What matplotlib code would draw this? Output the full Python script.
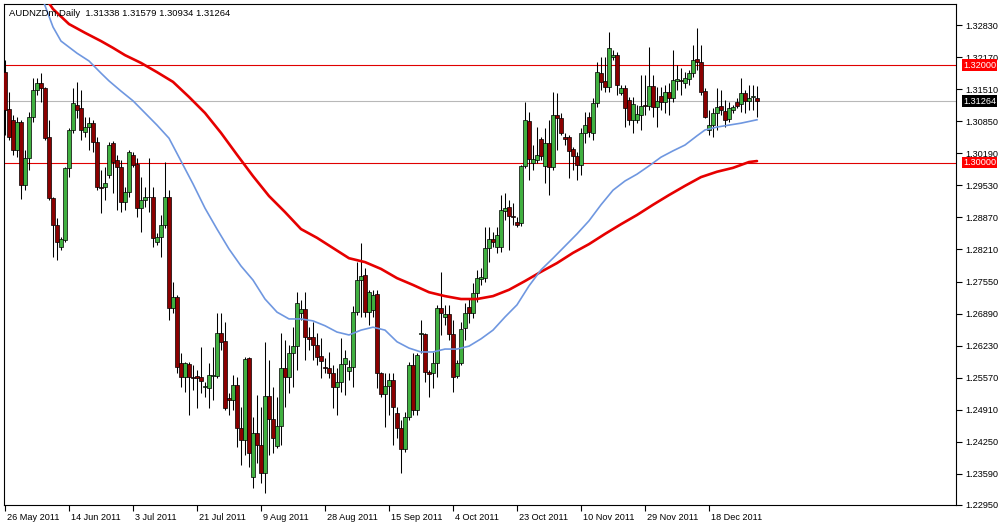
import matplotlib
matplotlib.use("Agg")
import matplotlib.pyplot as plt
import matplotlib.transforms as mtransforms

plt.rcParams['font.family'] = ['Liberation Sans', 'DejaVu Sans']

# ---------------- data ----------------
opens = [1.3186,1.3110,1.3087,1.3026,1.3083,1.2954,1.3009,1.3094,1.3149,1.3164,
         1.3153,1.3052,1.2927,1.2871,1.2826,1.2841,1.2989,1.3067,1.3118,1.3112,
         1.3063,1.3073,1.3081,1.3042,1.2950,1.2950,1.2974,1.3040,1.3005,1.2991,
         1.2919,1.2939,1.3015,1.2997,1.2906,1.2923,1.2929,1.2929,1.2836,1.2847,
         1.2871,1.2929,1.2700,1.2723,1.2587,1.2558,1.2585,1.2558,1.2561,1.2558,
         1.2538,1.2536,1.2561,1.2561,1.2649,1.2633,1.2515,1.2511,1.2542,1.2453,
         1.2429,1.2598,1.2353,1.2443,1.2418,1.2361,1.2519,1.2472,1.2416,1.2458,
         1.2577,1.2558,1.2608,1.2622,1.2690,1.2698,1.2641,1.2641,1.2624,1.2602,
         1.2579,1.2577,1.2567,1.2538,1.2548,1.2585,1.2571,1.2579,1.2692,1.2758,
         1.2768,1.2692,1.2696,1.2729,1.2567,1.2524,1.2540,1.2552,1.2484,1.2453,
         1.2410,1.2476,1.2583,1.2491,1.2647,1.2647,1.2569,1.2567,1.2587,1.2700,
         1.2682,1.2688,1.2647,1.2561,1.2587,1.2659,1.2703,1.2690,1.2731,1.2760,
         1.2762,1.2824,1.2843,1.2826,1.2826,1.2900,1.2908,1.2890,1.2878,1.2876,
         1.2993,1.3085,1.2999,1.3005,1.3048,1.2993,1.3040,1.2991,1.3098,1.3092,
         1.3052,1.3052,1.3028,1.3014,1.2995,1.3061,1.3094,1.3061,1.3122,1.3184,
         1.3168,1.3155,1.3217,1.3221,1.3143,1.3153,1.3129,1.3087,1.3087,1.3098,
         1.3118,1.3116,1.3157,1.3114,1.3137,1.3125,1.3145,1.3133,1.3168,1.3170,
         1.3164,1.3172,1.3184,1.3213,1.3207,1.3147,1.3067,1.3077,1.3102,1.3116,
         1.3106,1.3090,1.3108,1.3125,1.3120,1.3143,1.3127,1.3134,1.31338]
highs = [1.3211,1.3145,1.3098,1.3094,1.3087,1.3026,1.3104,1.3174,1.3174,1.3184,
         1.3155,1.3087,1.2929,1.2886,1.2847,1.2991,1.3071,1.3153,1.3166,1.3149,
         1.3094,1.3094,1.3087,1.3052,1.2985,1.2991,1.3042,1.3044,1.3015,1.3005,
         1.2950,1.3026,1.3022,1.3009,1.2970,1.2950,1.3009,1.2950,1.2855,1.2892,
         1.3001,1.2943,1.2754,1.2727,1.2608,1.2589,1.2589,1.2583,1.2573,1.2620,
         1.2548,1.2587,1.2620,1.2690,1.2690,1.2672,1.2526,1.2563,1.2558,1.2497,
         1.2600,1.2600,1.2476,1.2521,1.2497,1.2631,1.2593,1.2538,1.2517,1.2649,
         1.2635,1.2624,1.2661,1.2733,1.2717,1.2733,1.2661,1.2672,1.2649,1.2639,
         1.2598,1.2610,1.2583,1.2577,1.2639,1.2614,1.2593,1.2705,1.2795,1.2834,
         1.2783,1.2738,1.2738,1.2738,1.2569,1.2567,1.2567,1.2567,1.2497,1.2470,
         1.2487,1.2589,1.2608,1.2608,1.2676,1.2649,1.2573,1.2610,1.2707,1.2775,
         1.2707,1.2707,1.2676,1.2593,1.2672,1.2711,1.2721,1.2752,1.2779,1.2783,
         1.2867,1.2867,1.2857,1.2867,1.2933,1.2937,1.2923,1.2917,1.2888,1.2995,
         1.3125,1.3104,1.3036,1.3073,1.3052,1.3071,1.3087,1.3145,1.3143,1.3102,
         1.3061,1.3057,1.3032,1.3022,1.3071,1.3104,1.3104,1.3133,1.3207,1.3217,
         1.3217,1.3269,1.3232,1.3227,1.3160,1.3160,1.3135,1.3135,1.3118,1.3180,
         1.3180,1.3238,1.3180,1.3155,1.3155,1.3160,1.3164,1.3232,1.3201,1.3194,
         1.3186,1.3190,1.3242,1.3277,1.3242,1.3153,1.3108,1.3112,1.3153,1.3149,
         1.3129,1.3125,1.3118,1.3133,1.3174,1.3149,1.3160,1.3160,1.31579]
lows = [1.3057,1.3046,1.3015,1.3011,1.2925,1.2943,1.2985,1.3083,1.3139,1.3125,
        1.3046,1.2923,1.2806,1.2799,1.2820,1.2836,1.2970,1.3061,1.3092,1.3046,
        1.3052,1.3026,1.3022,1.2943,1.2896,1.2923,1.2968,1.2937,1.2902,1.2898,
        1.2902,1.2929,1.2991,1.2888,1.2857,1.2908,1.2898,1.2826,1.2830,1.2806,
        1.2865,1.2676,1.2690,1.2567,1.2538,1.2528,1.2480,1.2532,1.2495,1.2526,
        1.2517,1.2495,1.2511,1.2556,1.2614,1.2491,1.2480,1.2491,1.2414,1.2377,
        1.2398,1.2373,1.2330,1.2381,1.2340,1.2320,1.2398,1.2402,1.2412,1.2418,
        1.2497,1.2526,1.2538,1.2573,1.2676,1.2593,1.2614,1.2593,1.2583,1.2556,
        1.2567,1.2556,1.2495,1.2480,1.2528,1.2521,1.2552,1.2538,1.2686,1.2682,
        1.2682,1.2666,1.2682,1.2536,1.2517,1.2456,1.2480,1.2418,1.2433,1.2361,
        1.2404,1.2470,1.2480,1.2480,1.2608,1.2548,1.2517,1.2536,1.2558,1.2645,
        1.2666,1.2635,1.2528,1.2556,1.2583,1.2635,1.2670,1.2680,1.2713,1.2748,
        1.2754,1.2795,1.2826,1.2814,1.2816,1.2882,1.2820,1.2871,1.2867,1.2869,
        1.2989,1.2964,1.2985,1.2999,1.3005,1.2958,1.2933,1.2985,1.3026,1.3057,
        1.3036,1.2968,1.2985,1.2964,1.2974,1.3040,1.3052,1.3046,1.3114,1.3149,
        1.3145,1.3145,1.3211,1.3139,1.3139,1.3073,1.3077,1.3061,1.3081,1.3067,
        1.3098,1.3108,1.3094,1.3073,1.3108,1.3102,1.3098,1.3125,1.3149,1.3139,
        1.3153,1.3160,1.3176,1.3190,1.3139,1.3092,1.3057,1.3052,1.3067,1.3098,
        1.3073,1.3083,1.3102,1.3112,1.3104,1.3102,1.3108,1.3108,1.30934]
closes = [1.3108,1.3052,1.3026,1.3083,1.2954,1.3009,1.3094,1.3149,1.3164,1.3153,
          1.3050,1.2927,1.2871,1.2836,1.2843,1.2989,1.3067,1.3122,1.3108,1.3067,
          1.3073,1.3081,1.3042,1.2950,1.2948,1.2958,1.3036,1.3001,1.2991,1.2919,
          1.2939,1.3022,1.2995,1.2906,1.2923,1.2929,1.2928,1.2845,1.2847,1.2871,
          1.2929,1.2700,1.2723,1.2579,1.2558,1.2587,1.2558,1.2556,1.2556,1.2550,
          1.2540,1.2563,1.2563,1.2649,1.2631,1.2495,1.2511,1.2542,1.2453,1.2429,
          1.2596,1.2402,1.2443,1.2418,1.2361,1.2519,1.2472,1.2433,1.2458,1.2577,
          1.2558,1.2608,1.2622,1.2711,1.2698,1.2641,1.2637,1.2624,1.2600,1.2591,
          1.2577,1.2567,1.2538,1.2548,1.2585,1.2598,1.2579,1.2692,1.2758,1.2766,
          1.2692,1.2733,1.2727,1.2567,1.2524,1.2540,1.2552,1.2497,1.2453,1.2410,
          1.2476,1.2583,1.2491,1.2604,1.2649,1.2569,1.2565,1.2587,1.2700,1.2690,
          1.2688,1.2647,1.2558,1.2587,1.2657,1.2690,1.2690,1.2731,1.2762,1.2764,
          1.2824,1.2843,1.2836,1.2851,1.2902,1.2906,1.2890,1.2888,1.2871,1.2993,
          1.3087,1.3007,1.3007,1.3015,1.3014,1.3040,1.2991,1.3098,1.3092,1.3061,
          1.3048,1.3024,1.3014,1.2995,1.3061,1.3077,1.3063,1.3122,1.3186,1.3166,
          1.3155,1.3236,1.3221,1.3160,1.3153,1.3112,1.3087,1.3120,1.3100,1.3116,
          1.3117,1.3157,1.3114,1.3127,1.3125,1.3145,1.3133,1.3170,1.3172,1.3168,
          1.3174,1.3184,1.3211,1.3207,1.3145,1.3094,1.3077,1.3102,1.3114,1.3108,
          1.3087,1.3112,1.3114,1.3116,1.3143,1.3127,1.3133,1.3136,1.31264]

# moving averages (bar index, price)
ma_fast_idx = [9, 12, 14, 18, 21, 24, 26, 29, 32, 35, 38, 41, 44, 47, 50, 53, 56, 59,
               62, 65, 68, 71, 74, 77, 80, 83, 86, 89, 92, 95, 98, 101, 104, 107, 110,
               113, 116, 119, 122, 125, 128, 131, 134, 137, 140, 143, 146, 149, 152,
               155, 158, 161, 164, 167, 170, 173, 175, 178, 181, 184, 188]
ma_fast_val = [1.3345, 1.3279, 1.3250, 1.3225, 1.3209, 1.3184, 1.3168, 1.3147, 1.3127,
               1.3102, 1.3077, 1.3050, 1.3003, 1.2956, 1.2906, 1.2863, 1.2822, 1.2787,
               1.2758, 1.2719, 1.2692, 1.2678, 1.2678, 1.2674, 1.2664, 1.2651, 1.2645,
               1.2655, 1.2661, 1.2655, 1.2631, 1.2618, 1.2610, 1.2610, 1.2616, 1.2616,
               1.2622, 1.2637, 1.2655, 1.2682, 1.2707, 1.2746, 1.2779, 1.2803, 1.2828,
               1.2853, 1.2880, 1.2913, 1.2943, 1.2962, 1.2976, 1.2993, 1.3011, 1.3024,
               1.3036, 1.3055, 1.3067, 1.3073, 1.3077, 1.3081, 1.3088]
ma_slow_idx = [10, 12, 16, 20, 24, 27, 30, 34, 38, 42, 46, 50, 54, 58, 62, 66, 70, 74,
               78, 82, 86, 90, 94, 98, 102, 106, 110, 114, 118, 122, 126, 130, 134,
               138, 142, 146, 150, 154, 158, 162, 166, 170, 174, 178, 182, 186, 188]
ma_slow_val = [1.3340, 1.3316, 1.3285, 1.3267, 1.3250, 1.3236, 1.3221, 1.3205, 1.3186,
               1.3166, 1.3135, 1.3102, 1.3061, 1.3016, 1.2972, 1.2931, 1.2898, 1.2863,
               1.2845, 1.2824, 1.2803, 1.2795, 1.2781, 1.2762, 1.2748, 1.2733, 1.2725,
               1.2719, 1.2719, 1.2725, 1.2738, 1.2756, 1.2775, 1.2793, 1.2814, 1.2832,
               1.2853, 1.2873, 1.2892, 1.2913, 1.2933, 1.2952, 1.2970, 1.2981, 1.2989,
               1.3001, 1.3003]

level_lines = [1.32000, 1.30000]
last_price = 1.31264
title = "AUDNZDm,Daily  1.31338 1.31579 1.30934 1.31264"
y_ticks = [1.32830, 1.32170, 1.31510, 1.30850, 1.30190, 1.29530, 1.28870, 1.28210,
           1.27550, 1.26890, 1.26230, 1.25570, 1.24910, 1.24250, 1.23590, 1.22950]
x_tick_idx = [0, 16, 32, 48, 64, 80, 96, 112, 128, 144, 160, 176]
x_tick_labels = ["26 May 2011", "14 Jun 2011", "3 Jul 2011", "21 Jul 2011", "9 Aug 2011",
                 "28 Aug 2011", "15 Sep 2011", "4 Oct 2011", "23 Oct 2011", "10 Nov 2011",
                 "29 Nov 2011", "18 Dec 2011"]

# ---------------- figure ----------------
W, H = 998, 527
fig = plt.figure(figsize=(W / 100, H / 100), dpi=100, facecolor='white')
ax = fig.add_axes([4 / W, (H - 505) / H, 952 / W, 501 / H])
ax.set_facecolor('white')

bull = '#40b040'
bear = '#8b0000'
n = len(opens)
xs = list(range(n))

ax.vlines(xs, lows, highs, color='black', linewidth=0.75, zorder=2)
for i in range(n):
    o, c = opens[i], closes[i]
    col = bull if c >= o else bear
    h = abs(c - o)
    if h < 0.00003:
        ax.hlines(o, i - 0.45, i + 0.45, color='black', linewidth=0.75, zorder=3)
    else:
        ax.bar(i, h, bottom=min(o, c), width=0.8, color=col, edgecolor='black',
               linewidth=0.5, zorder=3)

ax.plot(ma_slow_idx, ma_slow_val, color='#e60000', linewidth=1.9, zorder=4,
        solid_capstyle='round')
ax.plot(ma_fast_idx, ma_fast_val, color='#6f97e0', linewidth=1.2, zorder=4)

for lv in level_lines:
    ax.axhline(lv, color='#e00000', linewidth=0.8, zorder=1)
ax.axhline(last_price, color='#b8b8b8', linewidth=0.8, zorder=1)

ax.set_xlim(-0.25, 237.75)
ax.set_ylim(1.22951, 1.33263)

ax.yaxis.tick_right()
ax.set_yticks(y_ticks)
ax.set_yticklabels([f"{v:.5f}" for v in y_ticks])
ax.tick_params(axis='y', direction='out', length=4, width=0.8, pad=3,
               labelsize=6.6, colors='black')
ax.set_xticks(x_tick_idx)
ax.set_xticklabels(x_tick_labels, ha='left')
ax.tick_params(axis='x', direction='out', length=4, width=0.8, pad=2,
               labelsize=6.6, colors='black')
for lab in ax.get_xticklabels():
    lab.set_transform(lab.get_transform() +
                      mtransforms.ScaledTranslation(1.5 / 72, 0, fig.dpi_scale_trans))
for sp in ax.spines.values():
    sp.set_color('black')
    sp.set_linewidth(0.8)

# price boxes on the right axis
for val, fc in [(level_lines[0], '#ff0000'), (level_lines[1], '#ff0000'),
                (last_price, '#000000')]:
    ax.annotate(f"{val:.5f}", xy=(1.0, val), xycoords=('axes fraction', 'data'),
                xytext=(5, 0), textcoords='offset points', ha='left', va='center',
                fontsize=6.6, color='white', zorder=6, annotation_clip=False,
                bbox=dict(boxstyle='square,pad=0.15', facecolor=fc, edgecolor='none'))

fig.text(9 / W, 1 - 13 / H, title, ha='left', va='center', fontsize=6.8, color='black')

fig.savefig('out.png', dpi=100, facecolor='white')
